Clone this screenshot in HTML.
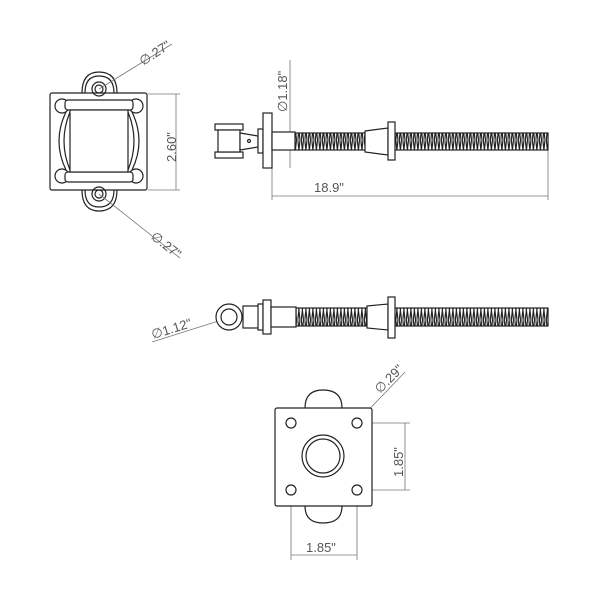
<!DOCTYPE html>
<html><head><style>body{margin:0;background:#fff}svg{display:block}text{font-family:"Liberation Sans",sans-serif;fill:#555}</style></head>
<body>
<svg width="600" height="600" viewBox="0 0 600 600" xmlns="http://www.w3.org/2000/svg">
<defs>
<pattern id="thr" width="3.5" height="20" patternUnits="userSpaceOnUse">
<rect width="3.5" height="20" fill="#fff"/><path d="M0.3 0 L2.5 20 M2.5 0 L0.3 20" stroke="#222" stroke-width="1.2"/>
</pattern>
</defs>
<g fill="none" stroke="#222" stroke-width="1.2">
<!-- top-left view -->
<rect x="50" y="93" width="97" height="97" rx="2"/>
<path d="M82 93 Q82 72 99 72 Q117 72 117 93" /><path d="M85 93 Q85 76 99 76 Q114 76 114 93"/>
<path d="M82 190 Q82 211 99 211 Q117 211 117 190"/><path d="M85 190 Q85 207 99 207 Q114 207 114 190"/>
<circle cx="99" cy="89" r="7"/><circle cx="99" cy="89" r="4"/>
<circle cx="99" cy="194" r="7"/><circle cx="99" cy="194" r="4"/>
<path d="M66 112 Q52 141 66 170"/><path d="M70 112 Q58 141 70 170"/>
<path d="M132 112 Q146 141 132 170"/><path d="M128 112 Q140 141 128 170"/>
<circle cx="62" cy="106" r="7"/><circle cx="136" cy="106" r="7"/>
<circle cx="62" cy="176" r="7"/><circle cx="136" cy="176" r="7"/>
<rect x="65" y="100" width="68" height="10" rx="3" fill="#fff"/>
<rect x="65" y="172" width="68" height="10" rx="3" fill="#fff"/>
<rect x="70" y="110" width="58" height="62" fill="#fff"/>
</g>
<g stroke="#777" stroke-width="0.8" fill="none">
<line x1="148" y1="94" x2="180" y2="94"/><line x1="148" y1="190" x2="180" y2="190"/>
<line x1="176" y1="94" x2="176" y2="190"/>
<line x1="99" y1="89" x2="172" y2="44"/><line x1="99" y1="194" x2="180" y2="258"/>
<line x1="272" y1="168" x2="272" y2="200"/><line x1="548" y1="150" x2="548" y2="200"/>
<line x1="272" y1="196" x2="548" y2="196"/>
<line x1="290" y1="60" x2="290" y2="168"/>
<line x1="228" y1="318" x2="152" y2="342"/>
<line x1="291" y1="428" x2="291" y2="560"/><line x1="357" y1="495" x2="357" y2="560"/>
<line x1="291" y1="555" x2="357" y2="555"/>
<line x1="360" y1="423" x2="410" y2="423"/><line x1="360" y1="490" x2="410" y2="490"/>
<line x1="405" y1="423" x2="405" y2="490"/>
<line x1="358" y1="421" x2="405" y2="372"/>
<line x1="291" y1="423" x2="357" y2="423" stroke-dasharray="6 3"/>
<line x1="291" y1="490" x2="357" y2="490" stroke-dasharray="6 3"/>
<line x1="291" y1="423" x2="291" y2="490" stroke-dasharray="6 3"/>
<line x1="357" y1="423" x2="357" y2="490" stroke-dasharray="6 3"/>
</g>
<text x="0" y="0" font-size="13" transform="translate(143,66) rotate(-33)">∅.27"</text>
<text x="0" y="0" font-size="13" transform="translate(150,238) rotate(38)">∅.27"</text>
<text x="0" y="0" font-size="13" transform="translate(176,162) rotate(-90)">2.60"</text>
<text x="0" y="0" font-size="13" transform="translate(287,112) rotate(-90)">∅1.18"</text>
<text x="314" y="192" font-size="13">18.9"</text>
<text x="0" y="0" font-size="13" transform="translate(153,339) rotate(-17)">∅1.12"</text>
<text x="0" y="0" font-size="13" transform="translate(380,394) rotate(-45)">∅.29"</text>
<text x="0" y="0" font-size="13" transform="translate(403,477) rotate(-90)">1.85"</text>
<text x="306" y="552" font-size="13">1.85"</text>
<!-- side view 1 -->
<g stroke="#222" stroke-width="1.2" fill="#fff">
<rect x="295" y="133" width="253" height="17" fill="url(#thr)"/>
<rect x="215" y="124" width="28" height="6"/><rect x="215" y="152" width="28" height="6"/>
<rect x="218" y="130" width="22" height="22"/>
<path d="M240 133 L258 136 L258 147 L240 150 Z"/><circle cx="249" cy="141" r="1.5"/>
<rect x="258" y="129" width="5" height="24"/>
<rect x="263" y="113" width="9" height="55"/>
<rect x="272" y="132" width="23" height="18"/>
<path d="M365 131 L388 128 L388 155 L365 152 Z"/>
<rect x="388" y="122" width="7" height="38"/>
<!-- side view 2 -->
<rect x="296" y="308" width="252" height="18" fill="url(#thr)"/>
<rect x="243" y="306" width="19" height="22"/>
<circle cx="229" cy="317" r="13"/><circle cx="229" cy="317" r="8"/>
<rect x="258" y="304" width="5" height="26"/>
<rect x="263" y="300" width="8" height="34"/>
<rect x="271" y="307" width="25" height="20"/>
<path d="M367 306 L388 304 L388 330 L367 328 Z"/>
<rect x="388" y="297" width="7" height="41"/>
<!-- bottom view -->
<path d="M305 408 Q305 390 323 390 Q342 390 342 408"/>
<path d="M305 506 Q305 523 323 523 Q342 523 342 506"/>
<rect x="275" y="408" width="97" height="98" rx="2"/>
<circle cx="323" cy="456" r="21"/><circle cx="323" cy="456" r="17"/>
<circle cx="291" cy="423" r="5"/><circle cx="357" cy="423" r="5"/>
<circle cx="291" cy="490" r="5"/><circle cx="357" cy="490" r="5"/>
</g>
</svg>
</body></html>
